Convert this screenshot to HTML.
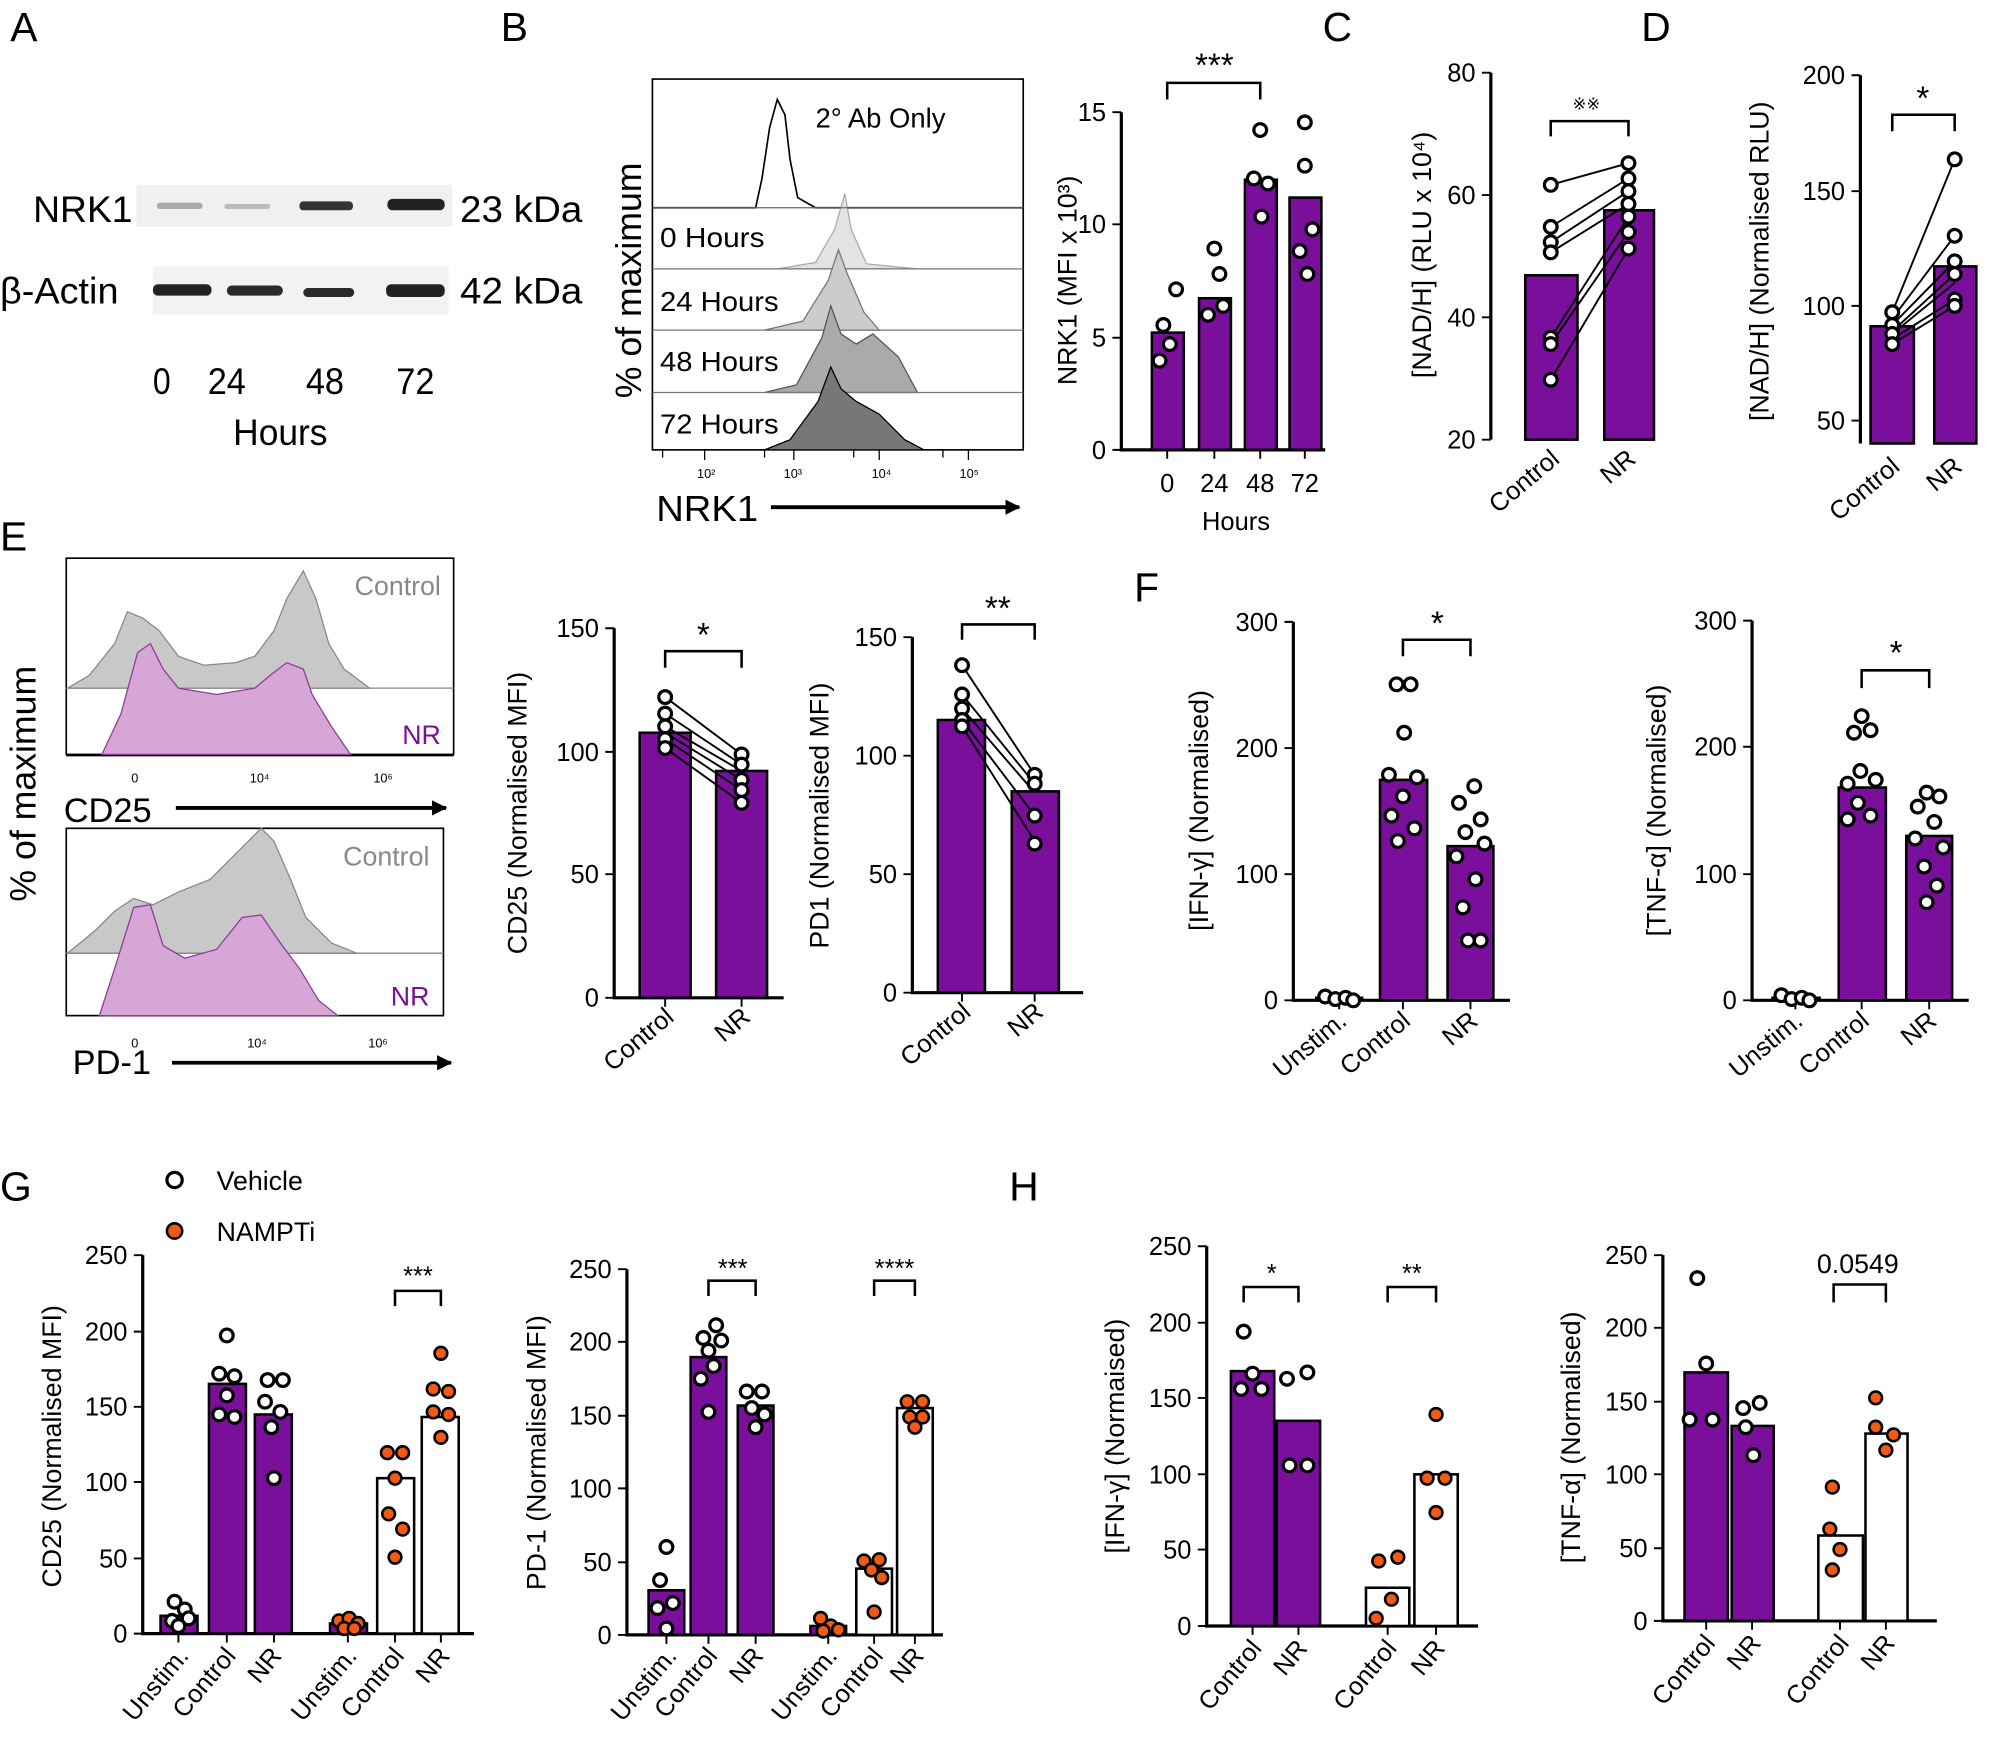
<!DOCTYPE html>
<html><head><meta charset="utf-8"><style>
html,body{margin:0;padding:0;background:#fff}
svg{display:block;font-family:"Liberation Sans",Arial,sans-serif}
</style></head><body>
<svg width="1998" height="1742" viewBox="0 0 1568 1367" xmlns="http://www.w3.org/2000/svg">
<defs>
<marker id="ar" markerWidth="12" markerHeight="12" refX="11" refY="6" orient="auto" markerUnits="userSpaceOnUse"><path d="M0,0 L12,6 L0,12Z" fill="#000"/></marker>
</defs>
<style>
.pl{font-size:32px}
.tk{font-size:20px}
.at{font-size:21px}
.st{font-size:26px}
.ax{stroke:#000;stroke-width:2.5;fill:none}
.p{fill:#7a0f9c;stroke:#000;stroke-width:2}
.w{fill:#fff;stroke:#000;stroke-width:2}
.d{fill:#fff;stroke:#000;stroke-width:2.5}
.o{fill:#f05a14;stroke:#000;stroke-width:2}
.ln{stroke:#000;stroke-width:1.5}
.br{stroke:#000;stroke-width:2;fill:none}
</style>

<text x="8" y="32" class="pl">A</text>
<text x="393" y="32" class="pl">B</text>
<text x="1038" y="32" class="pl">C</text>
<text x="1288" y="32" class="pl">D</text>
<text x="0" y="432" class="pl">E</text>
<text x="890" y="472" class="pl">F</text>
<text x="0" y="942" class="pl">G</text>
<text x="792" y="942" class="pl">H</text>

<!-- Panel A blot -->
<rect x="107" y="145" width="248" height="33" fill="#f0f0f0"/>
<rect x="120" y="209" width="232" height="38" fill="#f2f2f2"/>
<rect x="123" y="159" width="36" height="5" rx="2.5" fill="#aaa"/>
<rect x="176" y="160" width="36" height="4" rx="2" fill="#bbb"/>
<rect x="235" y="158" width="42" height="7" rx="3" fill="#333"/>
<rect x="304" y="156" width="45" height="9" rx="4" fill="#222"/>
<rect x="120" y="223" width="46" height="9" rx="4" fill="#222"/>
<rect x="178" y="224" width="44" height="8" rx="4" fill="#2a2a2a"/>
<rect x="238" y="226" width="40" height="7" rx="3.5" fill="#2a2a2a"/>
<rect x="303" y="223" width="46" height="10" rx="4" fill="#222"/>
<g font-size="29">
<text x="26" y="174" textLength="78" lengthAdjust="spacingAndGlyphs">NRK1</text>
<text x="361" y="174" textLength="96" lengthAdjust="spacingAndGlyphs">23 kDa</text>
<text x="0" y="238" textLength="93" lengthAdjust="spacingAndGlyphs">β-Actin</text>
<text x="361" y="238" textLength="96" lengthAdjust="spacingAndGlyphs">42 kDa</text>
<text x="120" y="309" textLength="14" lengthAdjust="spacingAndGlyphs">0</text>
<text x="163" y="309" textLength="30" lengthAdjust="spacingAndGlyphs">24</text>
<text x="240" y="309" textLength="30" lengthAdjust="spacingAndGlyphs">48</text>
<text x="311" y="309" textLength="30" lengthAdjust="spacingAndGlyphs">72</text>
<text x="183" y="349" textLength="74" lengthAdjust="spacingAndGlyphs">Hours</text>
</g>

<!-- Panel B histograms -->
<rect x="512" y="62" width="291" height="291" fill="none" stroke="#000" stroke-width="1.3"/>
<path d="M512,163 H593 L598,140 L604,100 L610,78 L616,90 L620,125 L626,155 L640,163 H803" fill="none" stroke="#000" stroke-width="1.3"/>
<path d="M610,211 L640,206 L655,180 L663,152 L668,180 L680,207 L720,211Z" fill="#e3e3e3" stroke="#aaa"/>
<line x1="512" y1="211" x2="803" y2="211" stroke="#777"/>
<path d="M600,259 L630,252 L650,220 L658,196 L665,215 L678,245 L690,259Z" fill="#ccc" stroke="#777"/>
<line x1="512" y1="259" x2="803" y2="259" stroke="#777"/>
<path d="M600,308 L625,302 L645,265 L652,240 L660,262 L672,270 L685,262 L705,280 L720,308Z" fill="#aaa" stroke="#555"/>
<line x1="512" y1="308" x2="803" y2="308" stroke="#777"/>
<line x1="512" y1="163" x2="803" y2="163" stroke="#666"/>
<path d="M600,353 L620,345 L642,315 L652,288 L660,305 L672,315 L690,325 L710,345 L725,353Z" fill="#777" stroke="#000"/>
<g font-size="22">
<text x="640" y="100" textLength="102" lengthAdjust="spacingAndGlyphs">2° Ab Only</text>
<text x="518" y="194" textLength="82" lengthAdjust="spacingAndGlyphs">0 Hours</text>
<text x="518" y="244" textLength="93" lengthAdjust="spacingAndGlyphs">24 Hours</text>
<text x="518" y="291" textLength="93" lengthAdjust="spacingAndGlyphs">48 Hours</text>
<text x="518" y="340" textLength="93" lengthAdjust="spacingAndGlyphs">72 Hours</text>
</g>
<path d="M520,353v6M553,353v8M600,353v6M623,353v8M670,353v6M690,353v8M740,353v6M760,353v8" stroke="#000"/>
<g font-size="10"><text x="547" y="375">10²</text><text x="615" y="375">10³</text><text x="684" y="375">10⁴</text><text x="753" y="375">10⁵</text></g>
<text transform="translate(503,220) rotate(-90)" text-anchor="middle" font-size="28">% of maximum</text>
<text x="515" y="409" font-size="28" textLength="80" lengthAdjust="spacingAndGlyphs">NRK1</text>
<line x1="605" y1="398" x2="800" y2="398" stroke="#000" stroke-width="3" marker-end="url(#ar)"/>

<!-- Panel B bar chart -->
<path class="ax" d="M880,88 V353 H1040"/>
<path class="ln" d="M873,88H880M873,176H880M873,265H880M873,353H880M916,353v7M953,353v7M989,353v7M1024,353v7"/>
<g class="tk" text-anchor="end"><text x="868" y="95">15</text><text x="868" y="183">10</text><text x="868" y="272">5</text><text x="868" y="360">0</text></g>
<rect class="p" x="904" y="261" width="25" height="92"/>
<rect class="p" x="941" y="234" width="25" height="119"/>
<rect class="p" x="977" y="141" width="25" height="212"/>
<rect class="p" x="1012" y="155" width="25" height="198"/>
<g class="d"><circle cx="913" cy="255" r="5"/><circle cx="918" cy="270" r="5"/><circle cx="910" cy="283" r="5"/><circle cx="923" cy="227" r="5"/>
<circle cx="953" cy="195" r="5"/><circle cx="957" cy="215" r="5"/><circle cx="948" cy="247" r="5"/><circle cx="960" cy="240" r="5"/>
<circle cx="989" cy="102" r="5"/><circle cx="984" cy="140" r="5"/><circle cx="995" cy="144" r="5"/><circle cx="990" cy="170" r="5"/>
<circle cx="1024" cy="96" r="5"/><circle cx="1024" cy="130" r="5"/><circle cx="1030" cy="180" r="5"/><circle cx="1020" cy="197" r="5"/><circle cx="1026" cy="215" r="5"/></g>
<path class="br" d="M916,78 V65 H989 V78"/>
<text x="953" y="60" text-anchor="middle" class="st">***</text>
<g class="tk" text-anchor="middle"><text x="916" y="386">0</text><text x="953" y="386">24</text><text x="989" y="386">48</text><text x="1024" y="386">72</text><text x="970" y="416">Hours</text></g>
<text transform="translate(845,220) rotate(-90)" text-anchor="middle" class="at">NRK1 (MFI x 10³)</text>

<!-- Panel C -->
<path class="ax" d="M1170,57 V345"/><path class="ln" d="M1163,57H1170M1163,153H1170M1163,249H1170M1163,345H1170"/>
<g class="tk" text-anchor="end"><text x="1158" y="64">80</text><text x="1158" y="160">60</text><text x="1158" y="256">40</text><text x="1158" y="352">20</text></g>
<rect class="p" x="1197" y="216" width="41" height="129"/>
<rect class="p" x="1259" y="165" width="39" height="180"/>
<path class="ln" d="M1217,145L1278,128M1217,178L1278,140M1217,190L1278,150M1217,198L1278,160M1217,265L1278,170M1217,270L1278,182M1217,298L1278,195"/>
<g class="d"><circle cx="1217" cy="145" r="5"/><circle cx="1217" cy="178" r="5"/><circle cx="1217" cy="190" r="5"/><circle cx="1217" cy="198" r="5"/><circle cx="1217" cy="265" r="5"/><circle cx="1217" cy="270" r="5"/><circle cx="1217" cy="298" r="5"/>
<circle cx="1278" cy="128" r="5"/><circle cx="1278" cy="140" r="5"/><circle cx="1278" cy="150" r="5"/><circle cx="1278" cy="160" r="5"/><circle cx="1278" cy="170" r="5"/><circle cx="1278" cy="182" r="5"/><circle cx="1278" cy="195" r="5"/></g>
<path class="br" d="M1217,107 V95 H1278 V107"/>
<text x="1245" y="86" text-anchor="middle" font-size="13">※※</text>
<text transform="translate(1123,200) rotate(-90)" text-anchor="middle" class="at">[NAD/H] (RLU x 10⁴)</text>
<g class="tk" text-anchor="end"><text transform="translate(1225,362) rotate(-40)">Control</text><text transform="translate(1285,362) rotate(-40)">NR</text></g>

<!-- Panel D -->
<path class="ax" d="M1460,59 V348"/><path class="ln" d="M1453,59H1460M1453,150H1460M1453,240H1460M1453,330H1460"/>
<g class="tk" text-anchor="end"><text x="1448" y="66">200</text><text x="1448" y="157">150</text><text x="1448" y="247">100</text><text x="1448" y="337">50</text></g>
<rect class="p" x="1468" y="256" width="34" height="92"/>
<rect class="p" x="1518" y="209" width="33" height="139"/>
<path class="ln" d="M1485,245L1534,125M1485,250L1534,185M1485,255L1534,205M1485,260L1534,215M1485,262L1534,222M1485,266L1534,235M1485,270L1534,240"/>
<g class="d"><circle cx="1485" cy="245" r="5"/><circle cx="1485" cy="255" r="5"/><circle cx="1485" cy="262" r="5"/><circle cx="1485" cy="270" r="5"/>
<circle cx="1534" cy="125" r="5"/><circle cx="1534" cy="185" r="5"/><circle cx="1534" cy="205" r="5"/><circle cx="1534" cy="215" r="5"/><circle cx="1534" cy="235" r="5"/><circle cx="1534" cy="240" r="5"/></g>
<path class="br" d="M1485,103 V90 H1534 V103"/>
<text x="1509" y="86" text-anchor="middle" class="st">*</text>
<text transform="translate(1388,205) rotate(-90)" text-anchor="middle" class="at">[NAD/H] (Normalised RLU)</text>
<g class="tk" text-anchor="end"><text transform="translate(1492,368) rotate(-40)">Control</text><text transform="translate(1541,368) rotate(-40)">NR</text></g>

<!-- Panel E histograms -->
<rect x="52" y="438" width="304" height="154" fill="none" stroke="#000" stroke-width="1.3"/>
<path d="M53,540 L70,530 L90,505 L100,480 L112,485 L125,495 L140,515 L160,522 L185,520 L200,515 L215,495 L225,470 L238,448 L248,470 L258,505 L270,525 L290,540Z" fill="#c8c8c8" stroke="#888"/>
<line x1="52" y1="540" x2="356" y2="540" stroke="#888"/>
<path d="M80,592 L95,560 L108,512 L118,505 L128,525 L140,540 L170,545 L200,540 L212,530 L225,520 L238,525 L245,545 L260,570 L275,592Z" fill="#d6a6d6" stroke="#8e3c99"/>
<text x="346" y="467" text-anchor="end" font-size="21" fill="#888">Control</text>
<text x="346" y="584" text-anchor="end" font-size="21" fill="#7a0f9c">NR</text>
<path d="M52,593H356" stroke="#000"/>
<g font-size="10"><text x="103" y="614">0</text><text x="196" y="614">10⁴</text><text x="293" y="614">10⁶</text></g>
<text x="50" y="645" font-size="27">CD25</text>
<line x1="138" y1="634" x2="350" y2="634" stroke="#000" stroke-width="3" marker-end="url(#ar)"/>
<rect x="52" y="650" width="296" height="147" fill="none" stroke="#000" stroke-width="1.3"/>
<path d="M53,748 L75,730 L90,715 L105,705 L120,710 L140,700 L165,690 L185,670 L205,650 L215,660 L228,690 L240,720 L260,740 L280,748Z" fill="#c8c8c8" stroke="#888"/>
<line x1="52" y1="748" x2="348" y2="748" stroke="#888"/>
<path d="M78,797 L90,760 L105,712 L118,710 L128,742 L145,752 L170,745 L190,720 L205,718 L220,740 L235,760 L250,785 L265,797Z" fill="#d6a6d6" stroke="#8e3c99"/>
<text x="337" y="679" text-anchor="end" font-size="21" fill="#888">Control</text>
<text x="337" y="789" text-anchor="end" font-size="21" fill="#7a0f9c">NR</text>
<g font-size="10"><text x="103" y="822">0</text><text x="194" y="822">10⁴</text><text x="289" y="822">10⁶</text></g>
<text x="57" y="843" font-size="27">PD-1</text>
<line x1="135" y1="834" x2="354" y2="834" stroke="#000" stroke-width="3" marker-end="url(#ar)"/>
<text transform="translate(28,615) rotate(-90)" text-anchor="middle" font-size="28">% of maximum</text>

<!-- CD25 bars -->
<path class="ax" d="M482,493 V783 H615"/><path class="ln" d="M475,493H482M475,590H482M475,686H482M475,783H482M522,783v7M582,783v7"/>
<g class="tk" text-anchor="end"><text x="470" y="500">150</text><text x="470" y="597">100</text><text x="470" y="693">50</text><text x="470" y="790">0</text></g>
<rect class="p" x="502" y="575" width="40" height="208"/>
<rect class="p" x="562" y="605" width="40" height="178"/>
<path class="ln" d="M522,547L582,592M522,560L582,600M522,570L582,605M522,575L582,612M522,580L582,620M522,587L582,630"/>
<g class="d"><circle cx="522" cy="547" r="5"/><circle cx="522" cy="560" r="5"/><circle cx="522" cy="570" r="5"/><circle cx="522" cy="580" r="5"/><circle cx="522" cy="587" r="5"/>
<circle cx="582" cy="592" r="5"/><circle cx="582" cy="600" r="5"/><circle cx="582" cy="612" r="5"/><circle cx="582" cy="620" r="5"/><circle cx="582" cy="630" r="5"/></g>
<path class="br" d="M522,524 V511 H582 V524"/>
<text x="552" y="507" text-anchor="middle" class="st">*</text>
<text transform="translate(413,638) rotate(-90)" text-anchor="middle" class="at">CD25 (Normalised MFI)</text>
<g class="tk" text-anchor="end"><text transform="translate(530,800) rotate(-40)">Control</text><text transform="translate(590,800) rotate(-40)">NR</text></g>

<!-- PD1 bars -->
<path class="ax" d="M716,500 V779 H850"/><path class="ln" d="M709,500H716M709,593H716M709,686H716M709,779H716M755,779v7M812,779v7"/>
<g class="tk" text-anchor="end"><text x="704" y="507">150</text><text x="704" y="600">100</text><text x="704" y="693">50</text><text x="704" y="786">0</text></g>
<rect class="p" x="736" y="565" width="37" height="214"/>
<rect class="p" x="794" y="621" width="37" height="158"/>
<path class="ln" d="M755,522L812,608M755,545L812,615M755,556L812,622M755,565L812,640M755,570L812,660"/>
<g class="d"><circle cx="755" cy="522" r="5"/><circle cx="755" cy="545" r="5"/><circle cx="755" cy="556" r="5"/><circle cx="755" cy="565" r="5"/><circle cx="755" cy="570" r="5"/>
<circle cx="812" cy="608" r="5"/><circle cx="812" cy="615" r="5"/><circle cx="812" cy="640" r="5"/><circle cx="812" cy="662" r="5"/></g>
<path class="br" d="M755,502 V490 H812 V502"/>
<text x="783" y="486" text-anchor="middle" class="st">**</text>
<text transform="translate(650,640) rotate(-90)" text-anchor="middle" class="at">PD1 (Normalised MFI)</text>
<g class="tk" text-anchor="end"><text transform="translate(763,796) rotate(-40)">Control</text><text transform="translate(820,796) rotate(-40)">NR</text></g>

<!-- Panel F IFN -->
<path class="ax" d="M1015,488 V785 H1185"/><path class="ln" d="M1008,488H1015M1008,587H1015M1008,686H1015M1008,785H1015M1051,785v7M1101,785v7M1154,785v7"/>
<g class="tk" text-anchor="end"><text x="1003" y="495">300</text><text x="1003" y="594">200</text><text x="1003" y="693">100</text><text x="1003" y="792">0</text></g>
<rect class="p" x="1033" y="783" width="36" height="2"/>
<rect class="p" x="1083" y="612" width="37" height="173"/>
<rect class="p" x="1136" y="664" width="36" height="121"/>
<g class="d"><circle cx="1040" cy="782" r="5"/><circle cx="1048" cy="784" r="5"/><circle cx="1056" cy="783" r="5"/><circle cx="1062" cy="785" r="5"/>
<circle cx="1096" cy="537" r="5"/><circle cx="1107" cy="537" r="5"/><circle cx="1102" cy="575" r="5"/><circle cx="1090" cy="608" r="5"/><circle cx="1112" cy="610" r="5"/><circle cx="1101" cy="625" r="5"/><circle cx="1092" cy="640" r="5"/><circle cx="1110" cy="650" r="5"/><circle cx="1097" cy="660" r="5"/>
<circle cx="1157" cy="617" r="5"/><circle cx="1145" cy="630" r="5"/><circle cx="1162" cy="643" r="5"/><circle cx="1150" cy="653" r="5"/><circle cx="1165" cy="662" r="5"/><circle cx="1143" cy="672" r="5"/><circle cx="1158" cy="690" r="5"/><circle cx="1148" cy="712" r="5"/><circle cx="1162" cy="738" r="5"/><circle cx="1152" cy="738" r="5"/></g>
<path class="br" d="M1101,515 V502 H1154 V515"/>
<text x="1128" y="498" text-anchor="middle" class="st">*</text>
<text transform="translate(948,636) rotate(-90)" text-anchor="middle" class="at">[IFN-γ] (Normalised)</text>
<g class="tk" text-anchor="end"><text transform="translate(1058,803) rotate(-40)">Unstim.</text><text transform="translate(1108,803) rotate(-40)">Control</text><text transform="translate(1161,803) rotate(-40)">NR</text></g>

<!-- Panel F TNF -->
<path class="ax" d="M1375,487 V785 H1545"/><path class="ln" d="M1368,487H1375M1368,586H1375M1368,686H1375M1368,785H1375M1409,785v7M1461,785v7M1514,785v7"/>
<g class="tk" text-anchor="end"><text x="1363" y="494">300</text><text x="1363" y="593">200</text><text x="1363" y="693">100</text><text x="1363" y="792">0</text></g>
<rect class="p" x="1391" y="783" width="37" height="2"/>
<rect class="p" x="1443" y="618" width="37" height="167"/>
<rect class="p" x="1496" y="656" width="36" height="129"/>
<g class="d"><circle cx="1398" cy="781" r="5"/><circle cx="1406" cy="784" r="5"/><circle cx="1414" cy="783" r="5"/><circle cx="1420" cy="785" r="5"/>
<circle cx="1461" cy="562" r="5"/><circle cx="1455" cy="575" r="5"/><circle cx="1468" cy="573" r="5"/><circle cx="1460" cy="605" r="5"/><circle cx="1450" cy="615" r="5"/><circle cx="1472" cy="612" r="5"/><circle cx="1458" cy="630" r="5"/><circle cx="1468" cy="640" r="5"/><circle cx="1450" cy="643" r="5"/>
<circle cx="1512" cy="622" r="5"/><circle cx="1522" cy="625" r="5"/><circle cx="1505" cy="633" r="5"/><circle cx="1518" cy="645" r="5"/><circle cx="1503" cy="658" r="5"/><circle cx="1525" cy="665" r="5"/><circle cx="1510" cy="680" r="5"/><circle cx="1520" cy="695" r="5"/><circle cx="1512" cy="708" r="5"/></g>
<path class="br" d="M1461,540 V526 H1514 V540"/>
<text x="1488" y="521" text-anchor="middle" class="st">*</text>
<text transform="translate(1307,636) rotate(-90)" text-anchor="middle" class="at">[TNF-α] (Normalised)</text>
<g class="tk" text-anchor="end"><text transform="translate(1416,803) rotate(-40)">Unstim.</text><text transform="translate(1468,803) rotate(-40)">Control</text><text transform="translate(1521,803) rotate(-40)">NR</text></g>

<!-- Panel G legend -->
<circle class="d" cx="137" cy="926" r="6"/><text x="170" y="934" class="at">Vehicle</text>
<circle class="o" cx="137" cy="966" r="6"/><text x="170" y="974" class="at">NAMPTi</text>

<!-- G chart 1 -->
<path class="ax" d="M112,985 V1282 H372"/><path class="ln" d="M105,985H112M105,1045H112M105,1104H112M105,1163H112M105,1223H112M105,1282H112M140,1282v7M178,1282v7M215,1282v7M273,1282v7M310,1282v7M346,1282v7"/>
<g class="tk" text-anchor="end"><text x="100" y="992">250</text><text x="100" y="1052">200</text><text x="100" y="1111">150</text><text x="100" y="1170">100</text><text x="100" y="1230">50</text><text x="100" y="1289">0</text></g>
<rect class="p" x="126" y="1268" width="29" height="14"/>
<rect class="p" x="164" y="1086" width="29" height="196"/>
<rect class="p" x="200" y="1110" width="29" height="172"/>
<rect class="p" x="259" y="1274" width="29" height="8"/>
<rect class="w" x="296" y="1160" width="29" height="122"/>
<rect class="w" x="331" y="1112" width="29" height="170"/>
<g class="d"><circle cx="137" cy="1257" r="5"/><circle cx="145" cy="1263" r="5"/><circle cx="135" cy="1272" r="5"/><circle cx="148" cy="1270" r="5"/><circle cx="140" cy="1276" r="5"/>
<circle cx="178" cy="1048" r="5"/><circle cx="172" cy="1078" r="5"/><circle cx="184" cy="1080" r="5"/><circle cx="178" cy="1095" r="5"/><circle cx="172" cy="1110" r="5"/><circle cx="184" cy="1112" r="5"/>
<circle cx="210" cy="1083" r="5"/><circle cx="222" cy="1083" r="5"/><circle cx="208" cy="1100" r="5"/><circle cx="220" cy="1108" r="5"/><circle cx="213" cy="1120" r="5"/><circle cx="215" cy="1160" r="5"/></g>
<g class="o"><circle cx="266" cy="1272" r="5"/><circle cx="274" cy="1270" r="5"/><circle cx="281" cy="1274" r="5"/><circle cx="270" cy="1278" r="5"/><circle cx="278" cy="1278" r="5"/>
<circle cx="304" cy="1140" r="5"/><circle cx="316" cy="1140" r="5"/><circle cx="310" cy="1160" r="5"/><circle cx="305" cy="1188" r="5"/><circle cx="316" cy="1200" r="5"/><circle cx="310" cy="1222" r="5"/>
<circle cx="346" cy="1062" r="5"/><circle cx="340" cy="1090" r="5"/><circle cx="352" cy="1092" r="5"/><circle cx="340" cy="1108" r="5"/><circle cx="352" cy="1110" r="5"/><circle cx="346" cy="1128" r="5"/></g>
<path class="br" d="M310,1025 V1013 H346 V1025"/>
<text x="328" y="1008" text-anchor="middle" font-size="20">***</text>
<text transform="translate(48,1135) rotate(-90)" text-anchor="middle" class="at">CD25 (Normalised MFI)</text>
<g class="tk" text-anchor="end"><text transform="translate(149,1300) rotate(-50)">Unstim.</text><text transform="translate(186,1300) rotate(-50)">Control</text><text transform="translate(222,1300) rotate(-50)">NR</text><text transform="translate(281,1300) rotate(-50)">Unstim.</text><text transform="translate(318,1300) rotate(-50)">Control</text><text transform="translate(354,1300) rotate(-50)">NR</text></g>

<!-- G chart 2 -->
<path class="ax" d="M492,996 V1283 H740"/><path class="ln" d="M485,996H492M485,1053H492M485,1111H492M485,1168H492M485,1226H492M485,1283H492M523,1283v7M556,1283v7M593,1283v7M650,1283v7M686,1283v7M718,1283v7"/>
<g class="tk" text-anchor="end"><text x="480" y="1003">250</text><text x="480" y="1060">200</text><text x="480" y="1118">150</text><text x="480" y="1175">100</text><text x="480" y="1233">50</text><text x="480" y="1290">0</text></g>
<rect class="p" x="509" y="1248" width="28" height="35"/>
<rect class="p" x="542" y="1065" width="28" height="218"/>
<rect class="p" x="579" y="1103" width="28" height="180"/>
<rect class="p" x="636" y="1276" width="28" height="7"/>
<rect class="w" x="672" y="1231" width="28" height="52"/>
<rect class="w" x="704" y="1105" width="28" height="178"/>
<g class="d"><circle cx="523" cy="1214" r="5"/><circle cx="518" cy="1240" r="5"/><circle cx="528" cy="1258" r="5"/><circle cx="516" cy="1262" r="5"/><circle cx="523" cy="1278" r="5"/>
<circle cx="562" cy="1040" r="5"/><circle cx="552" cy="1050" r="5"/><circle cx="566" cy="1052" r="5"/><circle cx="556" cy="1060" r="5"/><circle cx="560" cy="1072" r="5"/><circle cx="550" cy="1082" r="5"/><circle cx="556" cy="1108" r="5"/>
<circle cx="586" cy="1092" r="5"/><circle cx="598" cy="1092" r="5"/><circle cx="590" cy="1105" r="5"/><circle cx="600" cy="1110" r="5"/><circle cx="593" cy="1120" r="5"/></g>
<g class="o"><circle cx="644" cy="1270" r="5"/><circle cx="652" cy="1276" r="5"/><circle cx="658" cy="1279" r="5"/><circle cx="646" cy="1280" r="5"/>
<circle cx="678" cy="1225" r="5"/><circle cx="690" cy="1224" r="5"/><circle cx="684" cy="1232" r="5"/><circle cx="692" cy="1238" r="5"/><circle cx="686" cy="1265" r="5"/>
<circle cx="712" cy="1100" r="5"/><circle cx="724" cy="1100" r="5"/><circle cx="714" cy="1112" r="5"/><circle cx="724" cy="1112" r="5"/><circle cx="718" cy="1120" r="5"/></g>
<path class="br" d="M556,1017 V1005 H593 V1017"/>
<text x="575" y="1002" text-anchor="middle" font-size="20">***</text>
<path class="br" d="M686,1017 V1005 H718 V1017"/>
<text x="702" y="1002" text-anchor="middle" font-size="20">****</text>
<text transform="translate(428,1140) rotate(-90)" text-anchor="middle" class="at">PD-1 (Normalised MFI)</text>
<g class="tk" text-anchor="end"><text transform="translate(532,1300) rotate(-50)">Unstim.</text><text transform="translate(564,1300) rotate(-50)">Control</text><text transform="translate(600,1300) rotate(-50)">NR</text><text transform="translate(658,1300) rotate(-50)">Unstim.</text><text transform="translate(694,1300) rotate(-50)">Control</text><text transform="translate(726,1300) rotate(-50)">NR</text></g>

<!-- H chart 1 -->
<path class="ax" d="M947,978 V1276 H1160"/><path class="ln" d="M940,978H947M940,1038H947M940,1097H947M940,1157H947M940,1216H947M940,1276H947M983,1276v7M1019,1276v7M1089,1276v7M1127,1276v7"/>
<g class="tk" text-anchor="end"><text x="935" y="985">250</text><text x="935" y="1045">200</text><text x="935" y="1104">150</text><text x="935" y="1164">100</text><text x="935" y="1223">50</text><text x="935" y="1283">0</text></g>
<rect class="p" x="966" y="1076" width="34" height="200"/>
<rect class="p" x="1002" y="1115" width="34" height="161"/>
<rect class="w" x="1072" y="1246" width="34" height="30"/>
<rect class="w" x="1110" y="1157" width="34" height="119"/>
<g class="d"><circle cx="976" cy="1045" r="5"/><circle cx="983" cy="1078" r="5"/><circle cx="974" cy="1090" r="5"/><circle cx="990" cy="1090" r="5"/>
<circle cx="1010" cy="1082" r="5"/><circle cx="1026" cy="1077" r="5"/><circle cx="1012" cy="1150" r="5"/><circle cx="1026" cy="1150" r="5"/></g>
<g class="o"><circle cx="1082" cy="1225" r="5"/><circle cx="1097" cy="1222" r="5"/><circle cx="1092" cy="1255" r="5"/><circle cx="1080" cy="1270" r="5"/>
<circle cx="1127" cy="1110" r="5"/><circle cx="1120" cy="1160" r="5"/><circle cx="1134" cy="1160" r="5"/><circle cx="1127" cy="1187" r="5"/></g>
<path class="br" d="M976,1022 V1010 H1019 V1022"/>
<text x="998" y="1006" text-anchor="middle" font-size="20">*</text>
<path class="br" d="M1089,1022 V1010 H1127 V1022"/>
<text x="1108" y="1006" text-anchor="middle" font-size="20">**</text>
<text transform="translate(882,1127) rotate(-90)" text-anchor="middle" class="at">[IFN-γ] (Normaised)</text>
<g class="tk" text-anchor="end"><text transform="translate(991,1294) rotate(-50)">Control</text><text transform="translate(1027,1294) rotate(-50)">NR</text><text transform="translate(1097,1294) rotate(-50)">Control</text><text transform="translate(1135,1294) rotate(-50)">NR</text></g>

<!-- H chart 2 -->
<path class="ax" d="M1305,985 V1272 H1520"/><path class="ln" d="M1298,985H1305M1298,1042H1305M1298,1100H1305M1298,1157H1305M1298,1215H1305M1298,1272H1305M1339,1272v7M1375,1272v7M1444,1272v7M1480,1272v7"/>
<g class="tk" text-anchor="end"><text x="1293" y="992">250</text><text x="1293" y="1049">200</text><text x="1293" y="1107">150</text><text x="1293" y="1164">100</text><text x="1293" y="1222">50</text><text x="1293" y="1279">0</text></g>
<rect class="p" x="1322" y="1077" width="34" height="195"/>
<rect class="p" x="1359" y="1119" width="33" height="153"/>
<rect class="w" x="1427" y="1205" width="35" height="67"/>
<rect class="w" x="1464" y="1125" width="33" height="147"/>
<g class="d"><circle cx="1332" cy="1003" r="5"/><circle cx="1339" cy="1070" r="5"/><circle cx="1326" cy="1114" r="5"/><circle cx="1344" cy="1114" r="5"/>
<circle cx="1368" cy="1105" r="5"/><circle cx="1381" cy="1101" r="5"/><circle cx="1370" cy="1120" r="5"/><circle cx="1376" cy="1142" r="5"/></g>
<g class="o"><circle cx="1438" cy="1167" r="5"/><circle cx="1436" cy="1200" r="5"/><circle cx="1444" cy="1216" r="5"/><circle cx="1438" cy="1232" r="5"/>
<circle cx="1472" cy="1097" r="5"/><circle cx="1472" cy="1120" r="5"/><circle cx="1486" cy="1126" r="5"/><circle cx="1480" cy="1138" r="5"/></g>
<path class="br" d="M1439,1022 V1008 H1480 V1022"/>
<text x="1458" y="999" text-anchor="middle" class="at">0.0549</text>
<text transform="translate(1240,1128) rotate(-90)" text-anchor="middle" class="at">[TNF-α] (Normalised)</text>
<g class="tk" text-anchor="end"><text transform="translate(1347,1290) rotate(-50)">Control</text><text transform="translate(1383,1290) rotate(-50)">NR</text><text transform="translate(1452,1290) rotate(-50)">Control</text><text transform="translate(1488,1290) rotate(-50)">NR</text></g>
</svg>
</body></html>
